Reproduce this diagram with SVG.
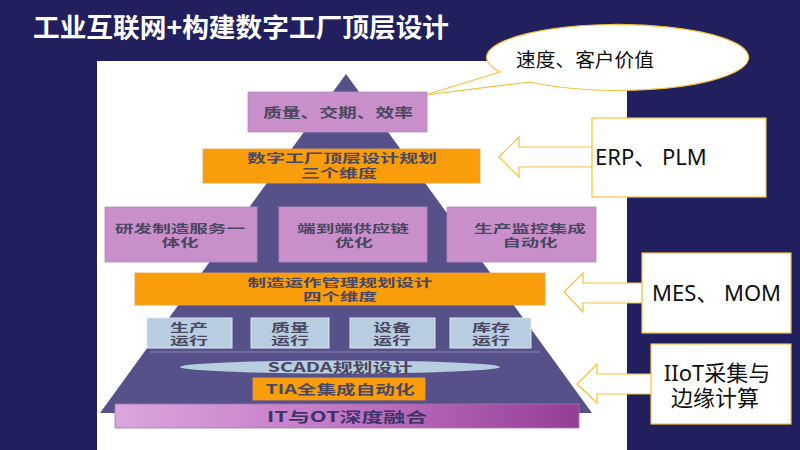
<svg xmlns="http://www.w3.org/2000/svg" width="800" height="450" viewBox="0 0 800 450">
<defs>
<style>
.pt{font-family:"Noto Sans CJK SC","Noto Sans",sans-serif;font-weight:bold;fill:#4a4760;text-anchor:middle}
.cl{font-family:"Noto Sans","Noto Sans CJK SC",sans-serif;fill:#111}
.pink{fill:#c98fca;stroke:#b58ab8;stroke-width:0.8}
.org{fill:#fa9d0b;stroke:#e8a040;stroke-width:0.8}
.blue{fill:#b9cde0;stroke:#dce6f0;stroke-width:1}
.gold{fill:#fff;stroke:#f3c13a;stroke-width:1.2}
</style>
<linearGradient id="itg" x1="0" y1="0" x2="1" y2="0">
<stop offset="0" stop-color="#dba6dc"/>
<stop offset="0.45" stop-color="#c47bc8"/>
<stop offset="1" stop-color="#963d96"/>
</linearGradient>
</defs>
<rect x="0" y="0" width="800" height="450" fill="#221f5e"/>
<rect x="97" y="61" width="530" height="389" fill="#fff"/>
<text x="33" y="37" font-family="Noto Sans CJK SC,sans-serif" font-weight="bold" font-size="26" fill="#fff" textLength="416" lengthAdjust="spacingAndGlyphs">工业互联网+构建数字工厂顶层设计</text>

<g id="pyramid">
<polygon points="346,74 100,413 592,413" fill="#575189"/>
<line x1="150" y1="352" x2="540" y2="352" stroke="#8a84b6" stroke-width="1"/>
</g>

<g id="connectors">
<path class="gold" d="M500,72 L425,95 L530,82 A131,33 0 1 0 500,72 Z"/>
<polygon class="gold" points="499,157 519,137 519,147 600,147 600,167 519,167 519,177"/>
<polygon class="gold" points="564,292 583,273 583,283 650,283 650,303 583,303 583,312"/>
<polygon class="gold" points="577,384 597,364 597,374 660,374 660,394 597,394 597,403"/>
</g>

<g id="n-top">
<rect class="pink" x="248" y="92" width="179" height="40"/>
<text class="pt" x="338" y="117" font-size="13" textLength="150" lengthAdjust="spacingAndGlyphs">质量、交期、效率</text>
</g>
<g id="n-three">
<rect class="org" x="203" y="149" width="277" height="34"/>
<text class="pt" x="342" y="163" font-size="12" textLength="190" lengthAdjust="spacingAndGlyphs">数字工厂顶层设计规划</text>
<text class="pt" x="339" y="178" font-size="12" textLength="76" lengthAdjust="spacingAndGlyphs">三个维度</text>
</g>
<g id="n-rd">
<rect class="pink" x="105" y="207" width="152" height="55"/>
<text class="pt" x="180" y="233" font-size="11.5" textLength="130" lengthAdjust="spacingAndGlyphs">研发制造服务一</text>
<text class="pt" x="180" y="247" font-size="11.5" textLength="37" lengthAdjust="spacingAndGlyphs">体化</text>
</g>
<g id="n-sc">
<rect class="pink" x="279" y="207" width="148" height="55"/>
<text class="pt" x="353" y="233" font-size="11.5" textLength="112" lengthAdjust="spacingAndGlyphs">端到端供应链</text>
<text class="pt" x="354" y="247" font-size="11.5" textLength="38" lengthAdjust="spacingAndGlyphs">优化</text>
</g>
<g id="n-pm">
<rect class="pink" x="447" y="207" width="149" height="55"/>
<text class="pt" x="530" y="233" font-size="11.5" textLength="112" lengthAdjust="spacingAndGlyphs">生产监控集成</text>
<text class="pt" x="530" y="247" font-size="11.5" textLength="55" lengthAdjust="spacingAndGlyphs">自动化</text>
</g>
<g id="n-four">
<rect class="org" x="135" y="273" width="410" height="32"/>
<text class="pt" x="340" y="287" font-size="11.5" textLength="185" lengthAdjust="spacingAndGlyphs">制造运作管理规划设计</text>
<text class="pt" x="340" y="301" font-size="11.5" textLength="74" lengthAdjust="spacingAndGlyphs">四个维度</text>
</g>
<g id="n-b1">
<rect class="blue" x="147" y="318" width="85" height="30"/>
<text class="pt" x="189" y="332" font-size="11.5" textLength="38" lengthAdjust="spacingAndGlyphs">生产</text>
<text class="pt" x="189" y="345" font-size="11.5" textLength="38" lengthAdjust="spacingAndGlyphs">运行</text>
</g>
<g id="n-b2">
<rect class="blue" x="251" y="318" width="78" height="30"/>
<text class="pt" x="290" y="332" font-size="11.5" textLength="38" lengthAdjust="spacingAndGlyphs">质量</text>
<text class="pt" x="290" y="345" font-size="11.5" textLength="38" lengthAdjust="spacingAndGlyphs">运行</text>
</g>
<g id="n-b3">
<rect class="blue" x="350" y="318" width="85" height="30"/>
<text class="pt" x="392" y="332" font-size="11.5" textLength="38" lengthAdjust="spacingAndGlyphs">设备</text>
<text class="pt" x="392" y="345" font-size="11.5" textLength="38" lengthAdjust="spacingAndGlyphs">运行</text>
</g>
<g id="n-b4">
<rect class="blue" x="450" y="318" width="81" height="30"/>
<text class="pt" x="491" y="332" font-size="11.5" textLength="38" lengthAdjust="spacingAndGlyphs">库存</text>
<text class="pt" x="491" y="345" font-size="11.5" textLength="38" lengthAdjust="spacingAndGlyphs">运行</text>
</g>
<g id="n-scada">
<ellipse cx="340" cy="367" rx="160" ry="6.5" fill="#b9cde0"/>
<text class="pt" x="340" y="372" font-size="13" textLength="145" lengthAdjust="spacingAndGlyphs">SCADA规划设计</text>
</g>
<g id="n-tia">
<rect class="org" x="253" y="378" width="172" height="22"/>
<text class="pt" x="340" y="394" font-size="13" textLength="149" lengthAdjust="spacingAndGlyphs">TIA全集成自动化</text>
</g>
<g id="n-it">
<rect x="115" y="404" width="464" height="24" fill="url(#itg)" stroke="#a474b2" stroke-width="0.8"/>
<text class="pt" x="347" y="422" font-size="14" style="fill:#3c3366" textLength="160" lengthAdjust="spacingAndGlyphs">IT与OT深度融合</text>
</g>

<g id="c-speed">
<text class="cl" x="516" y="67" font-size="19" textLength="138" lengthAdjust="spacingAndGlyphs">速度、客户价值</text>
</g>
<g id="c-erp">
<rect class="gold" x="592" y="118" width="174" height="79"/>
<text class="cl" x="595" y="165" font-size="22">ERP、 PLM</text>
</g>
<g id="c-mes">
<rect class="gold" x="642" y="253" width="149" height="80"/>
<text class="cl" x="652" y="301" font-size="22">MES、 MOM</text>
</g>
<g id="c-iiot">
<rect class="gold" x="651" y="344" width="140" height="80"/>
<text class="cl" x="717" y="381" font-size="22" text-anchor="middle">IIoT采集与</text>
<text class="cl" x="715" y="406" font-size="22" text-anchor="middle">边缘计算</text>
</g>
</svg>
